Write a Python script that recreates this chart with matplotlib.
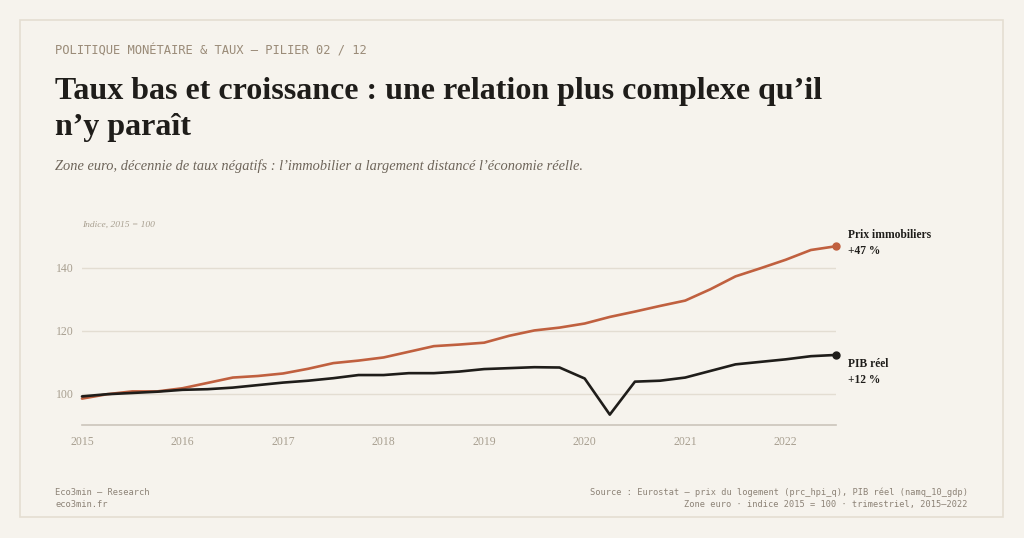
import matplotlib

matplotlib.use("Agg")
import matplotlib.pyplot as plt
from matplotlib.patches import Rectangle

# quarterly index values, 2015 = 100
quarters = [2015 + 0.25 * i for i in range(31)]
prix_immo = [98.4, 99.8, 100.7, 100.7, 101.7, 103.4, 105.1, 105.6, 106.4, 107.9,
             109.7, 110.5, 111.5, 113.3, 115.1, 115.6, 116.2, 118.4, 120.1, 121.0,
             122.3, 124.4, 126.1, 127.9, 129.6, 133.2, 137.3, 139.9, 142.6, 145.7,
             146.9]
pib_reel = [99.1, 99.8, 100.2, 100.6, 101.2, 101.4, 101.9, 102.7, 103.5, 104.1,
            104.9, 105.9, 105.9, 106.5, 106.5, 107.0, 107.8, 108.1, 108.4, 108.3,
            104.8, 93.3, 103.8, 104.1, 105.1, 107.2, 109.3, 110.1, 110.9, 111.9,
            112.3]
y_ticks = [100, 120, 140]
x_ticks = [2015, 2016, 2017, 2018, 2019, 2020, 2021, 2022]
labels = [("Prix immobiliers", "+47 %"), ("PIB réel", "+12 %")]

BG = "#f6f3ed"
RED = "#c0603f"
INK = "#1f1d1a"
MUTED = "#a89f90"
GRID = "#e3ddd2"

W, H = 1024, 538
fig = plt.figure(figsize=(W / 100, H / 100), dpi=100, facecolor=BG)


def px(x, y):
    return x / W, 1 - y / H


# card outline
fig.patches.append(Rectangle(px(20, 517), 983 / W, 497 / H, transform=fig.transFigure,
                             facecolor="none", edgecolor="#e4ded2", linewidth=1.2))

serif = "Liberation Serif"
mono = "DejaVu Sans Mono"

fig.text(*px(55, 55), "POLITIQUE MONÉTAIRE & TAUX — PILIER 02 / 12", family=mono,
         fontsize=8.7, color="#9a8b78", va="baseline")
fig.text(*px(55, 99), "Taux bas et croissance : une relation plus complexe qu’il",
         family=serif, weight="bold", fontsize=23, color=INK, va="baseline")
fig.text(*px(55, 135), "n’y paraît", family=serif, weight="bold", fontsize=23,
         color=INK, va="baseline")
fig.text(*px(55, 170), "Zone euro, décennie de taux négatifs : l’immobilier a largement "
         "distancé l’économie réelle.", family=serif, style="italic", fontsize=10.35,
         color="#6e655a", va="baseline")

ax = fig.add_axes([82 / W, 113 / H, 754 / W, 188.5 / H])
ax.set_facecolor(BG)
ax.plot(quarters, prix_immo, color=RED, linewidth=1.9, solid_capstyle="round",
        clip_on=False)
ax.plot(quarters, pib_reel, color=INK, linewidth=1.9, solid_capstyle="round",
        clip_on=False)
ax.plot(quarters[-1], prix_immo[-1], "o", color=RED, markersize=5, clip_on=False)
ax.plot(quarters[-1], pib_reel[-1], "o", color=INK, markersize=5, clip_on=False)

ax.set_xlim(2015, 2022.5)
ax.set_ylim(90, 150)
ax.set_yticks(y_ticks)
ax.set_xticks(x_ticks)
ax.grid(axis="y", color=GRID, linewidth=1)
ax.set_axisbelow(True)
for side in ["top", "right", "left"]:
    ax.spines[side].set_visible(False)
ax.spines["bottom"].set_color("#cbc5bb")
ax.spines["bottom"].set_linewidth(1.2)
ax.tick_params(axis="y", length=0, colors=MUTED, labelsize=8.5, pad=6)
ax.tick_params(axis="x", length=0, colors=MUTED, labelsize=8.5, pad=8)
for lbl in ax.get_xticklabels() + ax.get_yticklabels():
    lbl.set_family(serif)

fig.text(*px(82, 227), "Indice, 2015 = 100", family=serif, style="italic",
         fontsize=6.8, color=MUTED, va="baseline")

# end-of-line labels: (name offset, delta offset) in points
offsets = [(8.4, -3.6), (-6.7, -18.2)]
for (name, delta), yv, (dy_name, dy_delta) in zip(labels, [prix_immo[-1], pib_reel[-1]],
                                                   offsets):
    ax.annotate(name, (quarters[-1], yv), xytext=(9, dy_name), textcoords="offset points",
                family=serif, weight="bold", fontsize=8.3, color=INK, va="center",
                annotation_clip=False)
    ax.annotate(delta, (quarters[-1], yv), xytext=(9, dy_delta), textcoords="offset points",
                family=serif, weight="bold", fontsize=8.3, color=INK, va="center",
                annotation_clip=False)

fig.text(*px(55, 495), "Eco3min — Research", family=mono, fontsize=6.3,
         color="#8c8276", va="baseline")
fig.text(*px(55, 507), "eco3min.fr", family=mono, fontsize=6.3,
         color="#8c8276", va="baseline")
fig.text(*px(968, 495), "Source : Eurostat — prix du logement (prc_hpi_q), PIB réel "
         "(namq_10_gdp)", family=mono, fontsize=6.2, color="#8c8276",
         va="baseline", ha="right")
fig.text(*px(968, 507), "Zone euro · indice 2015 = 100 · trimestriel, 2015–2022",
         family=mono, fontsize=6.2, color="#8c8276", va="baseline", ha="right")

fig.savefig("out.png", dpi=100, facecolor=BG)
